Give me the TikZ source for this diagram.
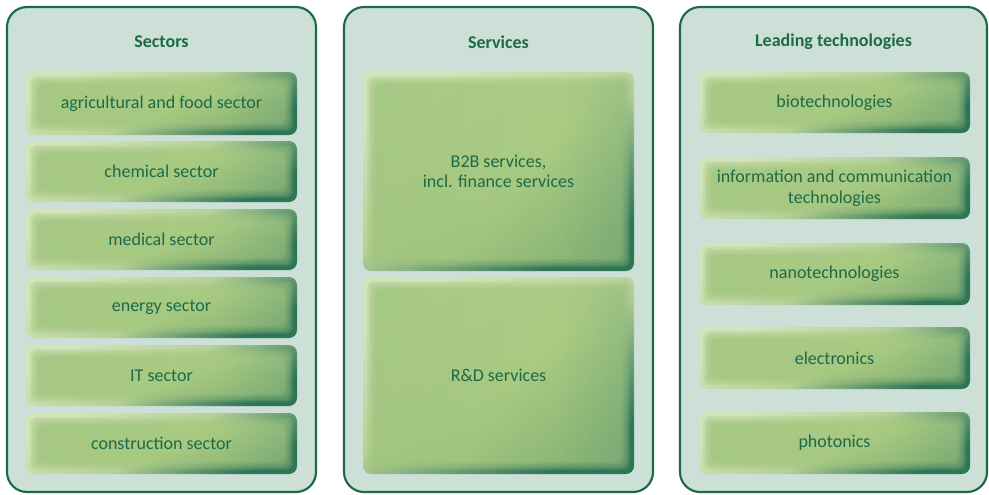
\documentclass[tikz,border=0pt]{standalone}
\usepackage{fontspec}
\setmainfont{Carlito}
\usetikzlibrary{fadings}
\definecolor{pfill}{HTML}{CCE0D8}
\definecolor{pline}{HTML}{1A6A44}
\definecolor{txt}{HTML}{1D6A4A}
\definecolor{rimlight}{HTML}{D2E4B8}
\definecolor{rimmid}{HTML}{B6D196}
\definecolor{rimdark}{HTML}{2F7557}
\definecolor{inA}{HTML}{55966B}
\definecolor{inB}{HTML}{78AD78}
\definecolor{inC}{HTML}{A1C67F}
\definecolor{inD}{HTML}{A9CB80}
\definecolor{inE}{HTML}{94BD86}
\definecolor{inF}{HTML}{538C72}
\definecolor{shadow}{HTML}{2E7556}
\pgfdeclarehorizontalshading{innergreen}{100bp}{color(0bp)=(inA); color(10bp)=(inB); color(24bp)=(inC); color(62bp)=(inD); color(86bp)=(inE); color(100bp)=(inF)}
\pgfdeclarehorizontalshading{brsh}{100bp}{color(0bp)=(pgftransparent); color(55bp)=(pgftransparent); color(80bp)=(pgftransparent!80); color(100bp)=(pgftransparent!30)}
\pgfdeclarefading{brfade}{\pgfuseshading{brsh}}
\tikzset{
  panel/.style={draw=pline, line width=1.6pt, fill=pfill, rounded corners=15pt},
  title/.style={font=\bfseries\fontsize{13.5}{15}\selectfont, text=txt},
  lbl/.style={font=\fontsize{13.5}{15.5}\selectfont, text=txt, align=center},
  basesh/.style={rounded corners=6pt, top color=rimlight, bottom color=rimdark, middle color=rimmid, shading angle=30},
  innersh/.style={rounded corners=5pt, shading=innergreen},
  darkov/.style={rounded corners=5pt, fill=shadow, path fading=brfade, fading angle=-30}
}
\newcommand{\gbox}[6]{%
  \shade[basesh] (#2,#3) rectangle (#4,#5);
  \foreach \d/\o in {4/0.25,6/0.3,8/0.3,10/0.35,12/0.5}{%
    \shade[innersh, opacity=\o] ({#2+\d},{#3+\d}) rectangle ({#4-\d},{#5-\d});
  }
  \fill[darkov] ({#2+2},{#3+2}) rectangle ({#4-1},{#5-1});
  \node[lbl] (#1) at ({(#2+#4)/2},{(#3+#5)/2}) {#6};
}
\begin{document}
\begin{tikzpicture}[x=0.75pt,y=-0.75pt]
\useasboundingbox (0,0) rectangle (989,494);
\fill[white] (0,0) rectangle (989,494);
% panels
\draw[panel] (7,7) rectangle (316,492);
\draw[panel] (344,7) rectangle (653,492);
\draw[panel] (680,7) rectangle (987,492);
\node[title] (t1) at (161.5,42) {Sectors};
\node[title] (t2) at (498.5,42) {Services};
\node[title] (t3) at (833.5,42) {Leading technologies};
% left
\gbox{s1}{26}{72}{297}{135}{agricultural and food sector}
\gbox{s2}{26}{141}{297}{202}{chemical sector}
\gbox{s3}{26}{209}{297}{270}{medical sector}
\gbox{s4}{26}{277}{297}{338}{energy sector}
\gbox{s5}{26}{345}{297}{406}{IT sector}
\gbox{s6}{26}{413}{297}{474}{construction sector}
% middle
\gbox{v1}{363}{72}{634}{271}{B2B services,\\incl. finance services}
\gbox{v2}{363}{277}{634}{474}{R\&D services}
% right
\gbox{r1}{699}{72}{970}{133}{biotechnologies}
\gbox{r2}{699}{157}{970}{219}{information and communication\\technologies}
\gbox{r3}{699}{243}{970}{305}{nanotechnologies}
\gbox{r4}{699}{327}{970}{389}{electronics}
\gbox{r5}{699}{412}{970}{474}{photonics}
\end{tikzpicture}
\end{document}
